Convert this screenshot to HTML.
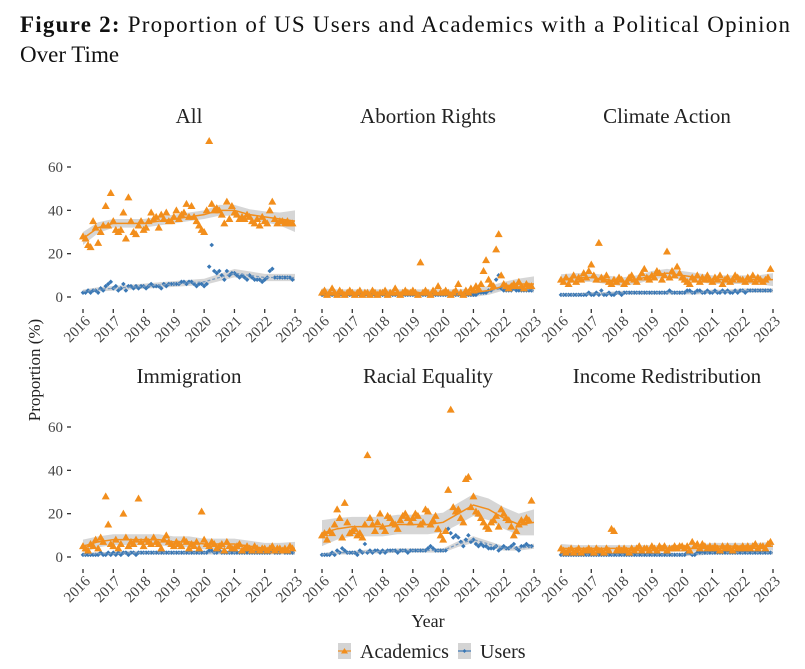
<!DOCTYPE html>
<html><head><meta charset="utf-8"><style>
body{margin:0;background:#fff;}
svg{display:block;font-family:"Liberation Serif",serif;}
</style></head><body>
<svg id="chart" width="805" height="669" viewBox="0 0 805 669">
<text x="20" y="32" font-size="23" fill="#111" textLength="770" lengthAdjust="spacing"><tspan font-weight="bold">Figure 2:</tspan> Proportion of US Users and Academics with a Political Opinion</text>
<text x="20" y="62" font-size="23" fill="#111">Over Time</text>
<g id="panels"></g>
<text x="40" y="370" font-size="17" fill="#222" text-anchor="middle" transform="rotate(-90 40 370)">Proportion (%)</text>
<text x="428" y="627" font-size="18" fill="#222" text-anchor="middle">Year</text>
<g>
<g>
<rect x="338" y="643" width="13" height="16" fill="#d4d4d4"/>
<line x1="338" y1="651" x2="351" y2="651" stroke="#f28e1c" stroke-width="1.2"/>
<polygon points="344.5,648 348,653.5 341,653.5" fill="#f28e1c"/>
<text x="360" y="658" font-size="20" fill="#222">Academics</text></g>
<g>
<rect x="458" y="643" width="13" height="16" fill="#d4d4d4"/>
<line x1="458" y1="651" x2="471" y2="651" stroke="#3a78b5" stroke-width="1.2"/>
<polygon points="464.5,649 466.5,651 464.5,653 462.5,651" fill="#3a78b5"/>
<text x="480" y="658" font-size="20" fill="#222">Users</text></g>
</g>
</svg>
<script>
const panelNames = ["All","Abortion Rights","Climate Action","Immigration","Racial Equality","Income Redistribution"];
const yearTicks = [2016,2017,2018,2019,2020,2021,2022,2023];
const yTicks = [0,20,40,60];
// monthly values, Jan 2016 .. Dec 2022
const acadAll = [28,27,24,23,35,32,25,30,33,42,33,48, 35,31,30,31,39,27,46,35,30,29,33,35, 31,32,35,39,36,37,32,38,36,39,35,35, 37,40,36,38,39,43,37,42,37,35,33,31, 30,40,72,43,40,41,40,38,34,44,36,42, 39,38,36,37,36,38,37,35,34,36,33,37, 35,34,40,44,36,34,35,35,34,35,34,34];
const userAll = [2,2,3,2,3,3,2,4,3,5,6,7, 4,5,3,4,6,3,5,5,4,5,4,5, 5,4,5,6,5,5,5,4,6,5,6,6, 6,6,6,7,7,6,7,7,6,5,6,6, 5,6,14,24,12,11,12,10,8,12,10,11, 11,10,9,10,9,8,10,9,8,8,8,7, 8,9,12,13,9,9,9,9,9,9,9,8];
const acadAbortion = [2,3,1,2,4,2,1,3,2,1,2,3, 2,1,2,3,1,2,2,1,3,2,1,2, 2,3,1,2,2,4,2,1,2,3,2,2, 3,2,1,16,2,3,2,1,3,2,5,2, 2,3,2,1,2,3,6,2,1,3,2,4, 3,5,4,6,12,17,8,6,5,22,29,10, 6,5,4,5,6,5,7,5,4,6,5,5];
const userAbortion = [1,1,1,1,1,1,1,1,1,1,1,1, 1,1,1,1,1,1,1,1,1,1,1,1, 1,1,1,1,1,1,1,1,1,1,1,1, 1,1,1,1,1,1,1,1,1,1,1,1, 1,1,1,1,1,1,1,1,1,1,1,1, 1,1,2,2,2,2,3,3,5,8,10,4, 3,3,3,3,4,3,3,3,3,3,3,3];
const acadClimate = [8,7,9,6,8,10,7,9,8,11,9,12, 15,10,8,25,9,8,10,7,6,8,7,9, 8,6,7,9,10,8,7,9,11,13,9,8, 10,9,12,11,8,10,21,9,12,10,14,11, 9,8,7,6,9,8,10,7,9,8,10,8, 7,9,8,10,6,8,9,7,8,10,9,8, 8,7,9,8,10,7,9,8,7,8,9,13];
const userClimate = [1,1,1,1,1,1,1,1,1,1,1,2, 1,1,2,1,3,1,1,2,1,1,2,2, 1,2,2,2,2,2,2,2,2,2,2,2, 2,2,2,2,2,2,2,3,2,2,2,2, 2,2,3,3,2,2,3,3,2,2,3,2, 2,3,2,2,3,2,3,2,2,3,2,3, 3,2,3,3,3,3,3,3,3,3,3,3];
const acadImmig = [5,4,3,6,5,8,4,9,7,28,15,6, 5,8,4,6,20,9,5,7,6,8,27,7, 5,8,7,6,9,7,6,4,8,10,7,6, 5,7,6,5,8,7,4,6,5,7,4,21, 8,6,5,7,6,4,5,6,3,7,5,4, 4,5,6,3,4,5,4,3,5,4,3,4, 4,3,4,5,3,4,4,3,4,3,5,4];
const userImmig = [1,1,1,1,1,1,1,2,1,1,2,1, 2,1,2,1,2,2,1,2,2,1,2,2, 2,2,2,2,2,2,2,2,2,2,2,2, 2,2,2,2,2,2,2,2,2,2,2,2, 2,2,3,3,2,2,3,2,2,2,2,2, 2,2,2,2,2,2,2,2,2,2,2,2, 2,2,2,3,2,2,2,3,2,2,2,2];
const acadRacial = [10,11,8,12,11,15,22,18,9,25,16,11, 12,13,10,11,9,15,47,18,15,12,16,20, 14,12,19,18,16,15,13,17,19,20,18,16, 18,20,19,15,16,22,21,15,17,19,13,10, 8,12,31,68,23,21,22,18,16,36,37,23, 28,21,20,18,16,14,13,16,17,19,14,22, 20,18,17,14,10,12,15,17,16,18,17,26];
const userRacial = [1,1,1,1,2,1,3,2,4,3,2,2, 2,2,1,3,2,6,2,3,2,3,3,2, 3,2,3,3,3,3,2,3,3,3,2,3, 3,3,3,3,3,3,4,5,4,3,3,3, 3,3,13,11,9,10,9,7,5,8,10,7, 8,6,5,6,5,5,4,4,4,5,3,4, 5,4,4,5,6,4,3,5,5,6,5,5];
const acadIncome = [4,3,2,3,4,2,3,4,2,3,3,4, 3,2,4,3,3,2,4,3,13,12,3,4, 3,4,3,2,4,3,4,5,3,4,4,3, 5,4,3,5,4,5,3,4,4,5,4,5, 5,4,5,3,7,5,6,4,6,5,4,5, 4,5,4,3,5,4,5,4,3,5,4,4, 5,4,5,4,5,6,4,5,5,4,6,7];
const userIncome = [1,1,1,1,1,1,1,1,1,1,1,1, 1,1,1,1,1,1,1,1,1,1,1,1, 1,1,1,1,1,1,1,1,1,1,1,1, 1,1,1,1,1,1,1,1,1,1,1,1, 1,1,2,2,1,1,2,2,2,2,2,2, 2,2,2,2,2,2,2,2,2,2,2,2, 2,2,2,2,2,2,2,2,2,2,2,2];
// smoothed trend, half-year steps 2016.0..2023.0
const smoothAcad = [[27,32,34,34,34,35,36,37,38,40,40,38,37,36,35],[2,2,2,2,2,2,2,2,2,2,2,3,5,6,6],[8,9,9,8,7,8,10,11,10,9,8,8,8,8,8],[5,7,8,8,8,8,7,7,6,6,6,5,4,4,4],[11,13,14,14,14,15,15,15,16,20,24,22,18,15,16],[4,4,4,4,4,4,4,4,4,4,5,5,5,5,5]];
const smoothUser = [[2.5,3.5,4,4.5,5,5.5,6,6.5,7,9,11,10,9,9,9],[1,1,1,1,1,1,1,1,1,1,2,3,4,4,3],[1,1,1.5,1.5,2,2,2,2,2,2,2.5,2.5,3,3,3],[1,1.5,1.5,2,2,2,2,2,2,2,2,2,2,2,2],[1,2,2,2.5,2.5,3,3,3,3,6,8,6,4,4,5],[1,1,1,1,1,1,1,1,1,1.5,2,2,2,2,2]];
const bandAcad = [[3,2.5,2,2,2,2,2,2,2,2.5,2.5,2.5,2.5,3,5],[2,1.5,1.5,1.5,1.5,1.5,1.5,1.5,1.5,1.5,2,2,2,2.5,3.5],[2.5,2,2,2,2,2,2,2,2,2,2,2,2,2,3],[3,2.5,2.5,2.5,2.5,2.5,2.5,2.5,2.5,2.5,2.5,2.5,2.5,2.5,3],[6,5,4.5,4.5,4.5,4.5,4.5,4.5,4.5,5,5,5,5,5,6],[2,1.5,1.5,1.5,1.5,1.5,1.5,1.5,1.5,1.5,1.5,1.5,1.5,1.5,2]];

const acad = [acadAll,acadAbortion,acadClimate,acadImmig,acadRacial,acadIncome];
const users = [userAll,userAbortion,userClimate,userImmig,userRacial,userIncome];

const NS="http://www.w3.org/2000/svg";
const root=document.getElementById('panels');
function mk(tag,attrs,parent){const e=document.createElementNS(NS,tag);for(const k in attrs)e.setAttribute(k,attrs[k]);parent.appendChild(e);return e;}
const ORANGE="#f28e1c", BLUE="#3a78b5";
panelNames.forEach((name,p)=>{
  const col=p%3,row=Math.floor(p/3);
  const x0=83+239*col, y0=297+260*row;
  const xs=t=>x0+(t-2016)*212/7;
  const ys=v=>y0-v*130/60;
  const g=mk('g',{},root);
  
  
  const tt=mk('text',{x:x0+106,y:y0-174,'font-size':21,fill:'#222','text-anchor':'middle'},g);
  tt.textContent=name;
  
  
  yearTicks.forEach(yr=>{
    const x=xs(yr);
    const tk=mk('line',{x1:x,y1:y0+12,x2:x,y2:y0+16,stroke:'#333','stroke-width':1.3},g);
    
    
    const lb=mk('text',{x:x+8,y:y0+25,'font-size':15,fill:'#444','text-anchor':'end',transform:`rotate(-45 ${x+8} ${y0+25})`},g);
    lb.textContent=yr;
    
    
  });
  if(col===0){
    yTicks.forEach(v=>{
      const y=ys(v);
      const lb=mk('text',{x:63,y:y+5,'font-size':15,fill:'#444','text-anchor':'end'},g);
      lb.textContent=v;
      
      
      const tk=mk('line',{x1:67,y1:y,x2:71,y2:y,stroke:'#333','stroke-width':1.3},g);
      
      
    });
  }
  const sa=smoothAcad[p], su=smoothUser[p], ba=bandAcad[p];
  const ts=sa.map((_,i)=>2016+i*0.5);
  const band=(sm,bw)=>{let up=ts.map((t,i)=>xs(t)+','+ys(sm[i]+bw[i]));let dn=ts.map((t,i)=>xs(t)+','+ys(Math.max(sm[i]-bw[i],-1))).reverse();return up.concat(dn).join(' ');};
  const b1=mk('polygon',{points:band(sa,ba),fill:'#cfcfcf','fill-opacity':0.85},g);
  
  
  const b2=mk('polygon',{points:band(su,su.map(v=>0.6+v*0.12)),fill:'#cfcfcf','fill-opacity':0.85},g);
  
  
  users[p].forEach((v,i)=>{
    const x=xs(2016+i/12), y=ys(v);
    const d=mk('polygon',{points:`${x},${y-2.3} ${x+2.3},${y} ${x},${y+2.3} ${x-2.3},${y}`,fill:BLUE},g);
    
    
  });
  const lu=mk('polyline',{points:ts.map((t,i)=>xs(t)+','+ys(su[i])).join(' '),fill:'none',stroke:'#7a9cc0','stroke-width':1.3,'stroke-dasharray':'3,2'},g);
  
  
  acad[p].forEach((v,i)=>{
    const x=xs(2016+i/12), y=ys(v);
    const tr=mk('polygon',{points:`${x},${y-4} ${x+4},${y+3} ${x-4},${y+3}`,fill:ORANGE},g);
    
    
  });
  const la=mk('polyline',{points:ts.map((t,i)=>xs(t)+','+ys(sa[i])).join(' '),fill:'none',stroke:ORANGE,'stroke-width':1.5},g);
  
  
});
</script>
</body></html>
